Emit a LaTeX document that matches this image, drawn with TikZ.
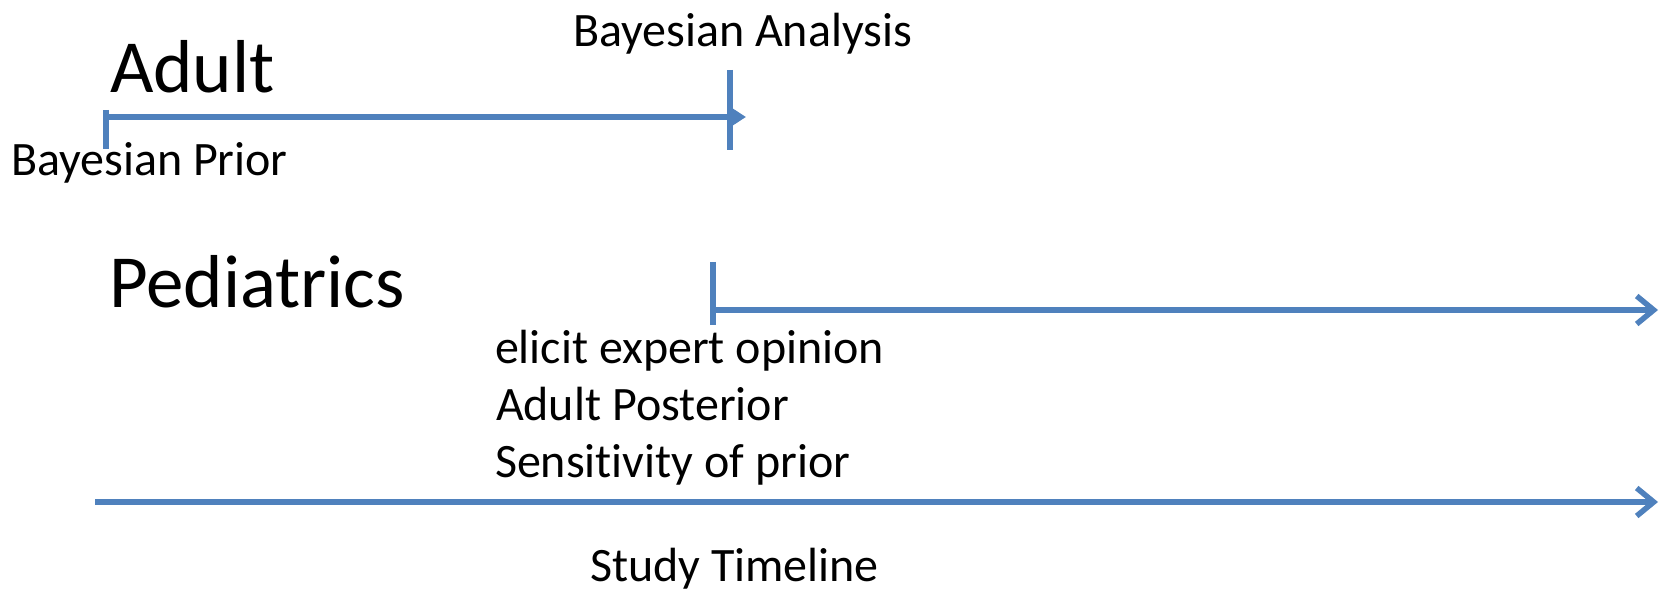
\documentclass[tikz,border=0pt]{standalone}
\usepackage{fontspec}
\setmainfont{Carlito}[Ligatures=NoCommon]
\usetikzlibrary{arrows.meta}
\definecolor{pptblue}{HTML}{4F81BD}
\begin{document}
\begin{tikzpicture}[x=1pt,y=-1pt,
  big/.style={anchor=base west,inner sep=0pt,outer sep=0pt,font=\fontsize{75}{88}\selectfont},
  small/.style={anchor=base west,inner sep=0pt,outer sep=0pt,font=\fontsize{48}{56}\selectfont},
  axis/.style={draw=pptblue,line width=5.5pt,line cap=butt},
  filledtip/.style={axis,-{Triangle[length=18pt,width=22pt]}},
  opentip/.style={axis,-{Straight Barb[length=17pt,width=28pt,line width=5.5pt]}}]
\useasboundingbox (0,0) rectangle (1662,593);

% texts
\node[small] (banalysis) at (573,47) {Bayesian Analysis};
\node[big] (adult) at (110,93) {Adult};
\node[small] (bprior) at (11,176) {Bayesian Prior};
\node[big] (ped) at (109,308) {Pediatrics};
\node[small] (elicit) at (495,363) {elicit expert opinion};
\node[small] (adpost) at (496,420) {Adult Posterior};
\node[small] (sens) at (495,477) {Sensitivity of prior};
\node[small] (study) at (590,581) {Study Timeline};

% adult timeline
\coordinate (a0t) at (106,110);
\coordinate (a0b) at (106,149);
\coordinate (a0) at (106,117);
\coordinate (a1) at (746,117);
\coordinate (a1t) at (730,70);
\coordinate (a1b) at (730,150);
\draw[axis] (a0t) -- (a0b);
\draw[filledtip] (a0) -- (a1);
\draw[axis] (a1t) -- (a1b);

% pediatrics timeline
\coordinate (p0t) at (713,262);
\coordinate (p0b) at (713,325);
\coordinate (p0) at (713,310);
\coordinate (p1) at (1658,310);
\draw[axis] (p0t) -- (p0b);
\draw[opentip] (p0) -- (p1);

% study timeline
\coordinate (t0) at (95,502);
\coordinate (t1) at (1658,502);
\draw[opentip] (t0) -- (t1);
\end{tikzpicture}
\end{document}
